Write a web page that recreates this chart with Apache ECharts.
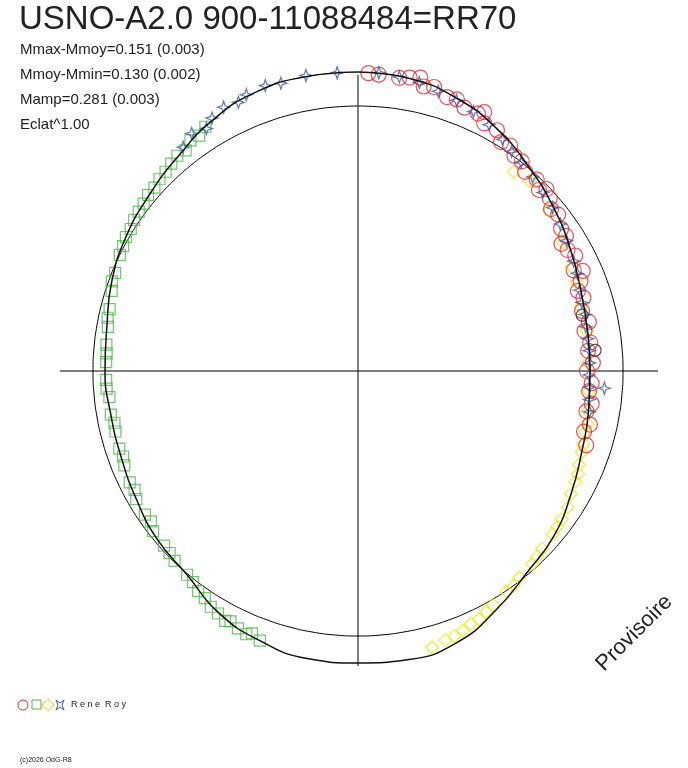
<!DOCTYPE html>
<html><head><meta charset="utf-8">
<script src="https://cdn.jsdelivr.net/npm/echarts@6/dist/echarts.min.js"></script>
<style>html,body{margin:0;background:#fff}#c{width:688px;height:768px}</style>
</head><body><div id="c"></div>
<script>
const fitCurve=[[0,299],[10,297],[20,290],[30,279],[40,266],[50,255],[60,245],[70,237],[80,233],[90,232],[100,234],[110,238],[120,246],[130,256],[140,263],[150,276],[160,289],[170,293],[180,292],[190,292],[200,287],[210,279],[220,266],[230,262],[240,256],[250,252],[260,251],[270,253],[280,255],[290,262],[300,268],[310,273],[320,280],[330,290],[340,297],[350,299],[360,299]];
const refRadius=265;
const redPts=[[2,298],[5,302],[8,296],[10,298],[13,292],[15,294],[18,288],[20,289],[22,284],[25,284],[27,278],[30,278],[32,270],[34,272],[36,266],[38,266],[40,260],[43,262],[45,256],[48,258],[50,252],[52,254],[55,248],[57,248],[60,242],[62,246],[65,238],[68,240],[70,234],[72,237],[75,232],[78,236],[80,230],[83,234],[85,231],[88,235],[90,229],[93,234],[95,232],[98,236],[100,232],[103,238],[105,234],[108,240],[66,246],[58,240],[46,262],[26,288],[12,300],[4,297]];
const bluePts=[[322,284],[325,290],[328,286],[330,292],[333,296],[336,294],[338,298],[342,300],[345,298],[348,301],[350,300],[353,301],[356,299],[0,301],[4,299],[8,297],[12,295],[16,291],[20,288],[24,284],[28,279],[32,273],[35,268],[38,265],[42,261],[46,257],[50,254],[54,250],[58,246],[63,242],[66,240],[70,236],[73,234],[76,234],[79,232],[82,232],[85,232],[88,232],[91,231],[94,232],[94,247],[97,233],[100,235]];
const yellowPts=[[38,253],[42,256],[50,250],[58,242],[64,238],[68,236],[74,232],[80,232],[88,230],[95,232],[100,233],[103,235],[105,235],[108,237],[110,238],[113,240],[115,243],[117,244],[120,246],[123,250],[126,252],[128,253],[130,254],[134,256],[136,258],[138,260],[142,262],[144,265],[146,266],[150,270],[152,273],[154,276],[156,277],[158,280],[160,282],[162,283],[165,286]];
const greenPts=[[200,287],[202,283],[203,286],[205,284],[207,281],[208,283],[210,280],[212,278],[214,274],[216,272],[218,268],[220,266],[224,264],[226,262],[228,261],[232,260],[234,256],[236,257],[240,256],[242,253],[244,254],[248,252],[250,250],[252,251],[256,250],[258,249],[260,251],[264,250],[266,252],[268,252],[272,252],[274,252],[276,253],[280,254],[282,256],[284,256],[288,259],[290,262],[292,262],[296,265],[298,266],[300,268],[302,268],[304,270],[306,271],[308,272],[310,274],[312,274],[314,276],[316,277],[318,279],[320,281],[322,280],[324,285],[326,284],[328,288]];
const blackPts=[[85,238],[76,231]];
const refCircle=[];for(let a=0;a<=360;a+=5)refCircle.push([a,refRadius]);
const star='path://M0,-10 L2.5,-2.5 L10,0 L2.5,2.5 L0,10 L-2.5,2.5 L-10,0 L-2.5,-2.5 Z';
const chart=echarts.init(document.getElementById('c'));
function sc(data,sym,size,col){return {type:'scatter',coordinateSystem:'polar',data:data.map(d=>[d[1],d[0]]),symbol:sym,symbolSize:size,itemStyle:{color:'rgba(0,0,0,0)',borderColor:col,borderWidth:1.2},silent:true,z:3};}
const F='"Liberation Sans", Arial';
chart.setOption({
 animation:false,
 polar:{center:[358,371],radius:300},
 angleAxis:{type:'value',min:0,max:360,startAngle:90,clockwise:true,show:false,splitLine:{show:false}},
 radiusAxis:{type:'value',min:0,max:300,show:false,splitLine:{show:false}},
 series:[
  {type:'line',coordinateSystem:'polar',data:refCircle.map(d=>[d[1],d[0]]),showSymbol:false,smooth:true,lineStyle:{color:'#000',width:1},z:1},
  sc(greenPts,'rect',11,'#4cb848'),
  sc(yellowPts,'diamond',13,'#f2e600'),
  sc(redPts,'circle',15,'#e8262e'),
  sc(blackPts,'circle',12,'#222'),
  sc(bluePts,star,12,'#3a56a8'),
  {type:'line',coordinateSystem:'polar',data:fitCurve.map(d=>[d[1],d[0]]),showSymbol:false,smooth:0.5,lineStyle:{color:'#111',width:1.5},z:5}
 ],
 graphic:[
  {type:'line',shape:{x1:60,y1:371,x2:658,y2:371},style:{stroke:'#000',lineWidth:1}},
  {type:'line',shape:{x1:358,y1:75,x2:358,y2:666},style:{stroke:'#000',lineWidth:1}},
  {type:'text',x:19,y:3,style:{text:'USNO-A2.0 900-11088484=RR70',font:'33px '+F,fill:'#222'}},
  {type:'text',x:20,y:42,style:{text:'Mmax-Mmoy=0.151 (0.003)',font:'15px '+F,fill:'#222'}},
  {type:'text',x:20,y:67,style:{text:'Mmoy-Mmin=0.130 (0.002)',font:'15px '+F,fill:'#222'}},
  {type:'text',x:20,y:92,style:{text:'Mamp=0.281 (0.003)',font:'15px '+F,fill:'#222'}},
  {type:'text',x:20,y:117,style:{text:'Eclat^1.00',font:'15px '+F,fill:'#222'}},
  {type:'text',x:592,y:660,rotation:Math.PI/4,style:{text:'Provisoire',font:'22px '+F,fill:'#222'}},
  {type:'circle',shape:{cx:23,cy:705,r:5},style:{fill:'none',stroke:'#e8262e'}},
  {type:'rect',shape:{x:32,y:700,width:9,height:9},style:{fill:'none',stroke:'#4cb848'}},
  {type:'polygon',shape:{points:[[48,699],[54,705],[48,711],[42,705]]},style:{fill:'none',stroke:'#f2e600'}},
  {type:'polygon',shape:{points:[[56,700],[60,703],[64,700],[62,705],[64,710],[60,707],[56,710],[58,705]]},style:{fill:'none',stroke:'#3a56a8'}},
  {type:'text',x:71,y:700,style:{text:'R e n e  R o y',font:'9px '+F,fill:'#222'}},
  {type:'text',x:20,y:757,style:{text:'(c)2026 OdG-R8',font:'7px '+F,fill:'#222'}}
 ]
});
</script></body></html>
